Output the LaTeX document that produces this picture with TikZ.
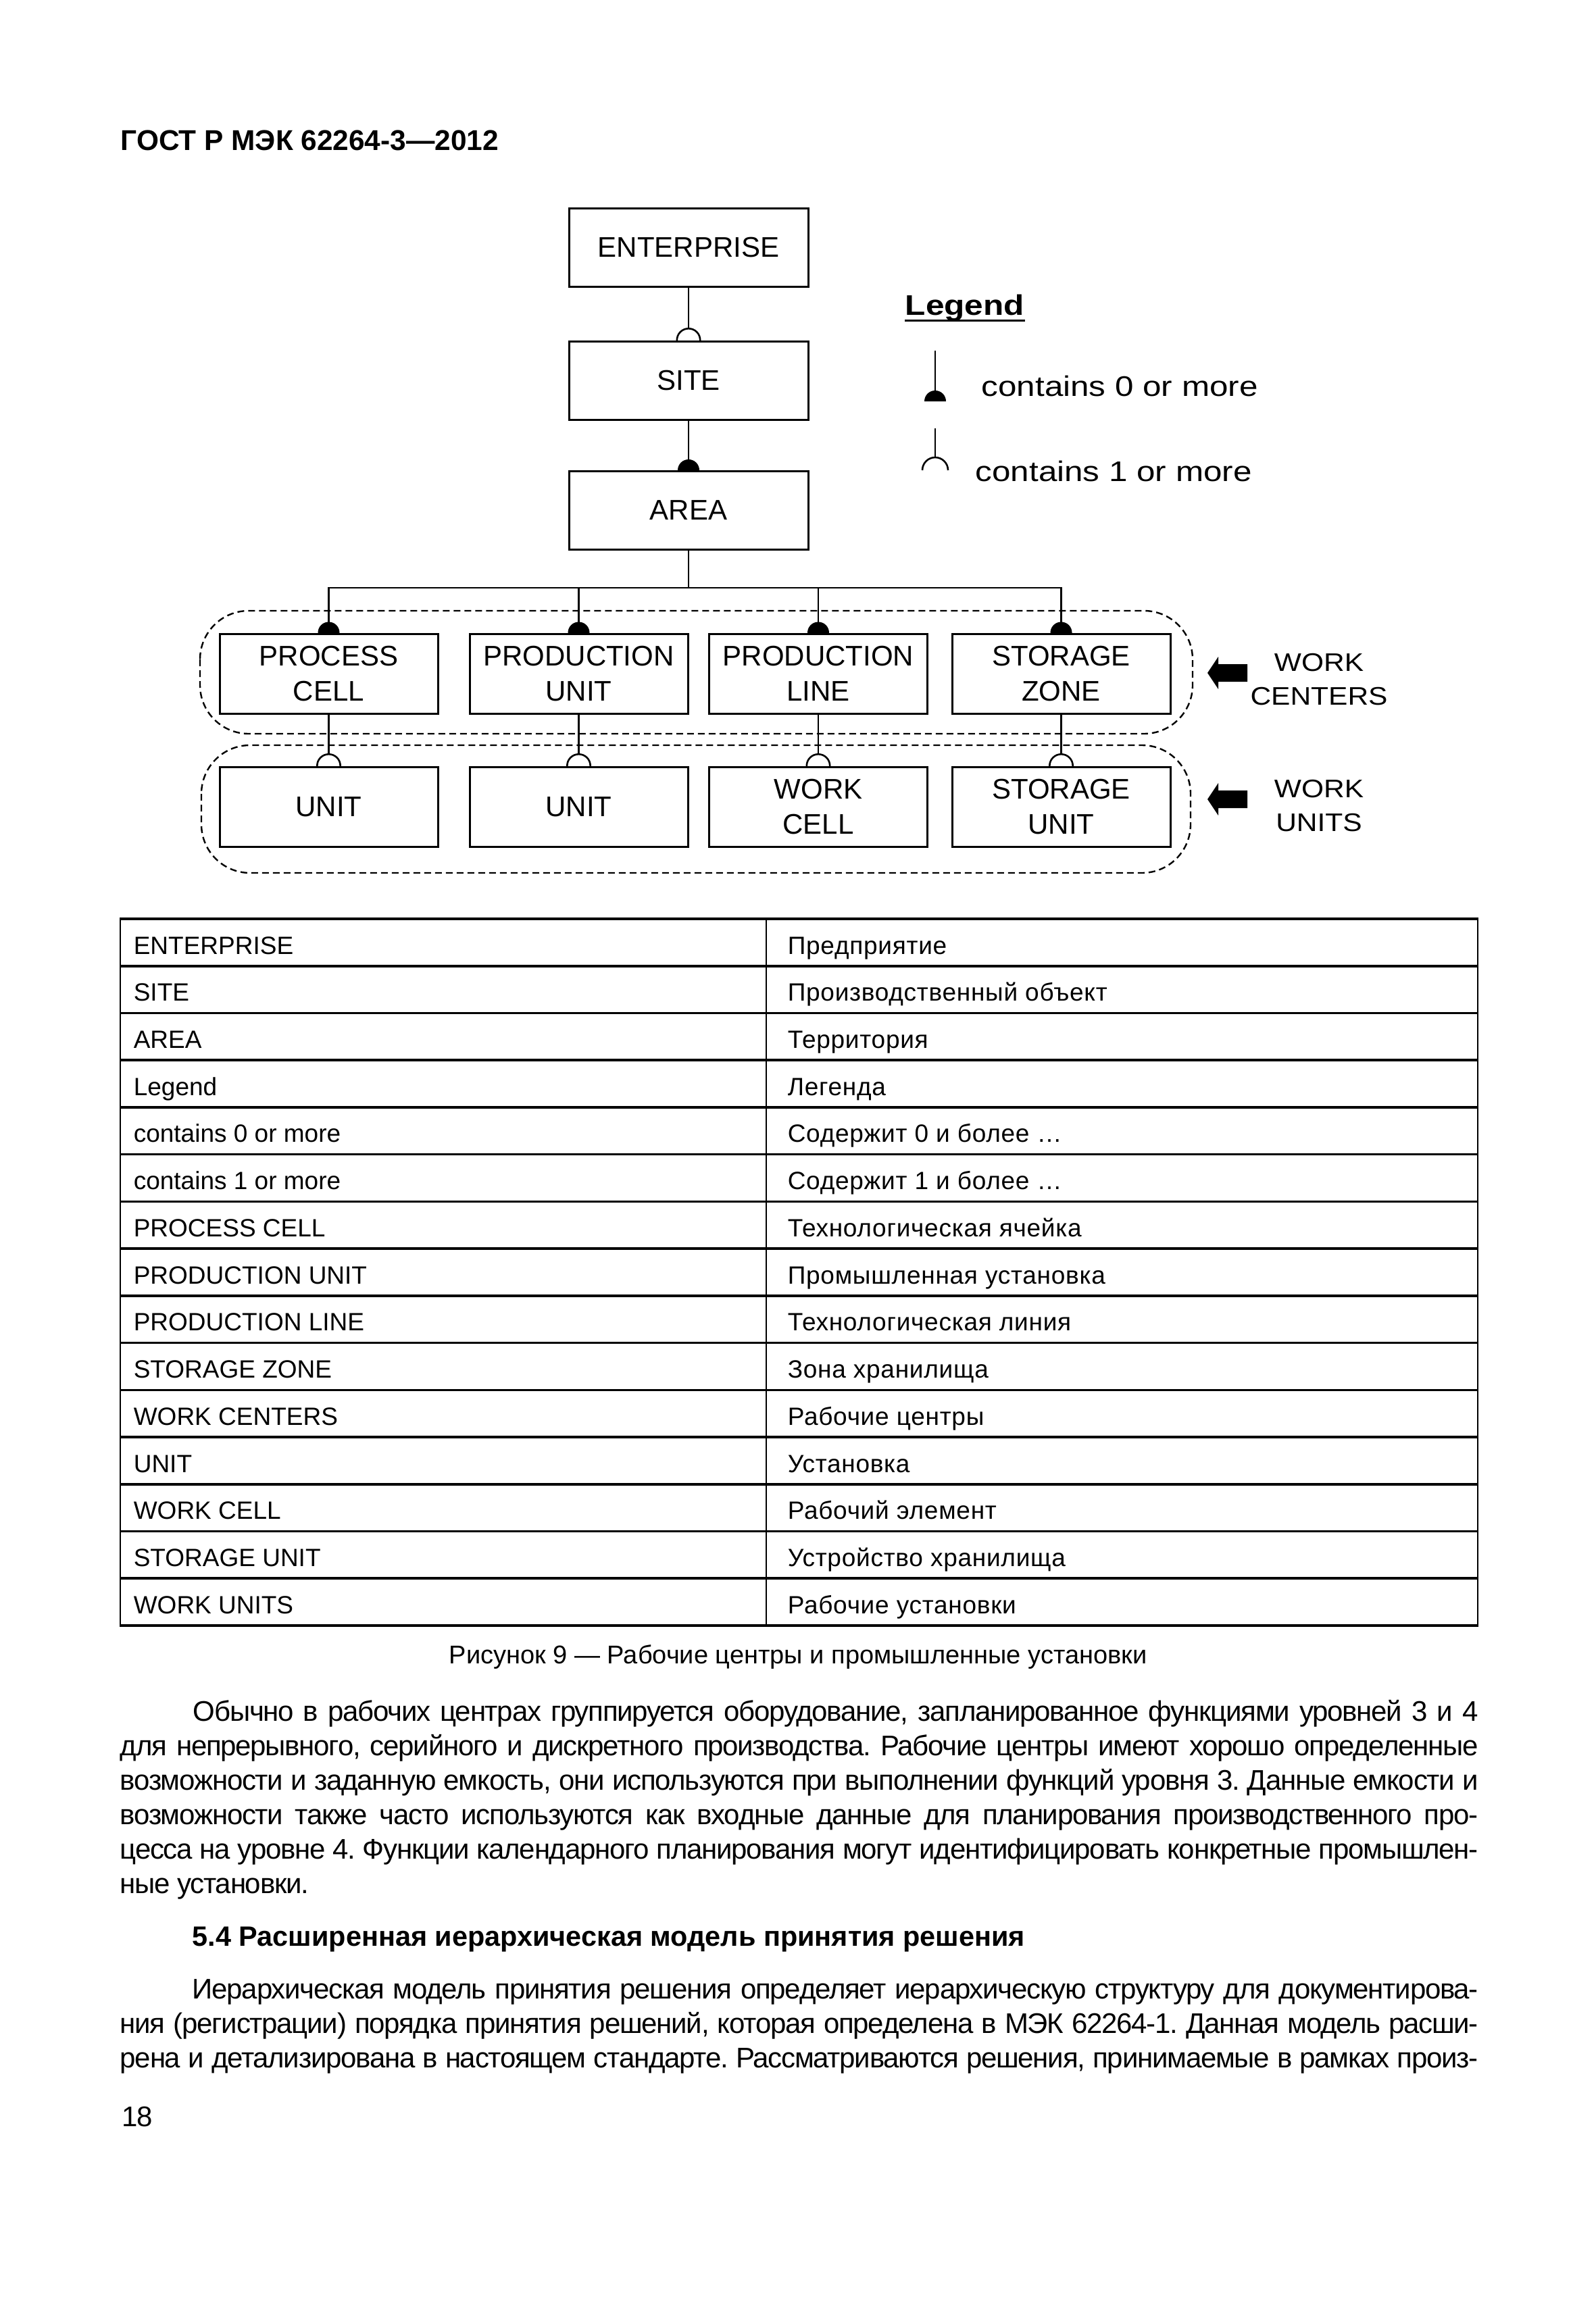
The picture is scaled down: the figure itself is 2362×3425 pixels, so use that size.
\documentclass[tikz,border=0pt]{standalone}
\usepackage{fontspec}
\usepackage{graphicx}
\setmainfont{Liberation Sans}
\newfontfamily\rusfont[LetterSpace=2]{Liberation Sans}
\newfontfamily\bodyfont[LetterSpace=-3]{Liberation Sans}
\usetikzlibrary{arrows.meta}
\pgfdeclarelayer{bg}
\pgfsetlayers{bg,main}
\newcommand{\hsc}[2]{\scalebox{#1}[1]{#2}}
\frenchspacing
\begin{document}
\begin{tikzpicture}[x=0.25pt,y=-0.25pt,
  box/.style={draw, line width=0.75pt, fill=white, minimum width=88.5pt, minimum height=29pt, inner sep=0pt, align=center, font=\fontsize{10.5pt}{13pt}\selectfont},
  wbox/.style={box, minimum width=80.75pt, minimum height=29.5pt},
  conn/.style={line width=0.65pt},
  onemore/.style={conn, -{Circle[open, length=9.25pt, width=9.25pt]}, shorten >=-4.625pt},
  zeromore/.style={conn, -{Circle[length=8pt, width=8pt]}, shorten >=-4pt},
  grp/.style={line width=0.6pt, dash pattern=on 2.5pt off 1.5pt, rounded corners=18pt},
  lbl/.style={anchor=base, inner sep=0pt, font=\fontsize{9.4pt}{11pt}\selectfont},
  leg/.style={anchor=base west, inner sep=0pt, font=\fontsize{10.5pt}{12pt}\selectfont},
  tcell/.style={anchor=base west, inner sep=0pt, font=\fontsize{9.25pt}{11pt}\selectfont},
  rcell/.style={tcell, font=\fontsize{9.25pt}{11pt}\rusfont},
  body/.style={anchor=base west, inner sep=0pt, font=\fontsize{10.5pt}{12.75pt}\bodyfont\frenchspacing},
  hline/.style={line width=0.9pt},
  vline/.style={line width=0.6pt}]
\useasboundingbox (0,0) rectangle (2362,3425);

% header
\node[anchor=base west, inner sep=0pt, font=\fontsize{10.6pt}{12pt}\selectfont\bfseries] (hdr) at (178,223) {ГОСТ Р МЭК 62264-3—2012};

% hierarchy
\node[box] (ent) at (1019,366) {ENTERPRISE};
\node[box] (site) at (1019,563) {SITE};
\node[box] (area) at (1019,755.5) {AREA};

\node[wbox] (pc) at (486.5,997) {PROCESS\\CELL};
\node[wbox] (pu) at (856.5,997) {PRODUCTION\\UNIT};
\node[wbox] (pl) at (1211,997) {PRODUCTION\\LINE};
\node[wbox] (sz) at (1570.5,997) {STORAGE\\ZONE};

\node[wbox] (u1) at (486.5,1194) {UNIT};
\node[wbox] (u2) at (856.5,1194) {UNIT};
\node[wbox] (wcell) at (1211,1194) {WORK\\CELL};
\node[wbox] (su) at (1570.5,1194) {STORAGE\\UNIT};

\begin{pgfonlayer}{bg}
\draw[onemore] (ent.south) -- (site.north);
\draw[zeromore] (site.south) -- (area.north);
\foreach \c in {pc,pu,pl,sz} {
  \draw[zeromore] (area.south) -- ++(0,55) -| (\c.north);
}
\draw[onemore] (pc.south) -- (u1.north);
\draw[onemore] (pu.south) -- (u2.north);
\draw[onemore] (pl.south) -- (wcell.north);
\draw[onemore] (sz.south) -- (su.north);
\end{pgfonlayer}

% groups
\draw[grp] (296,904) rectangle (1765,1086);
\draw[grp] (298,1103) rectangle (1762,1292);

% block arrows
\fill (1787,996) -- (1803,972) -- (1803,983) -- (1846,983) -- (1846,1009) -- (1803,1009) -- (1803,1020) -- cycle;
\fill (1787,1183) -- (1803,1159) -- (1803,1170) -- (1846,1170) -- (1846,1196) -- (1803,1196) -- (1803,1207) -- cycle;

\node[lbl] (wc1) at (1952,993) {\hsc{1.13}{WORK}};
\node[lbl] (wc2) at (1952,1043) {\hsc{1.13}{CENTERS}};
\node[lbl] (wu1) at (1952,1180) {\hsc{1.13}{WORK}};
\node[lbl] (wu2) at (1952,1230) {\hsc{1.13}{UNITS}};

% legend
\node[leg, font=\fontsize{10.5pt}{12pt}\selectfont\bfseries] (legend) at (1339,466) {\hsc{1.18}{Legend}};
\draw[line width=0.75pt] ([yshift=-2pt]legend.base west) -- ([yshift=-2pt]legend.base east);
\draw[conn] (1384,519) -- (1384,590);
\fill (1368,594) arc[start angle=180, end angle=0, radius=4pt] -- cycle;
\draw[conn] (1384,634) -- (1384,677);
\draw[conn] (1365,696) arc[start angle=180, end angle=0, radius=4.75pt];
\node[leg] (leg0) at (1452,586) {\hsc{1.175}{contains 0 or more}};
\node[leg] (leg1) at (1443,712) {\hsc{1.175}{contains 1 or more}};

% table
\foreach \i in {0,...,15} {
  \draw[hline] (177,{1360+\i*69.73}) -- (2188,{1360+\i*69.73});
}
\draw[vline] (178,1360) -- (178,2406);
\draw[vline] (1134,1360) -- (1134,2406);
\draw[vline] (2187,1360) -- (2187,2406);
\foreach [count=\i] \a/\b in {ENTERPRISE/Предприятие, SITE/Производственный объект, AREA/Территория, Legend/Легенда, contains 0 or more/Содержит 0 и более …, contains 1 or more/Содержит 1 и более …, PROCESS CELL/Технологическая ячейка, PRODUCTION UNIT/Промышленная установка, PRODUCTION LINE/Технологическая линия, STORAGE ZONE/Зона хранилища, WORK CENTERS/Рабочие центры, UNIT/Установка, WORK CELL/Рабочий элемент, STORAGE UNIT/Устройство хранилища, WORK UNITS/Рабочие установки} {
  \node[tcell] (l\i) at (197,{1360+(\i-1)*69.73+52}) {\a};
  \node[rcell] (r\i) at (1165,{1360+(\i-1)*69.73+52}) {\b};
}

\node[anchor=base, inner sep=0pt, font=\fontsize{9.5pt}{11pt}\selectfont] (cap) at (1181,2462) {Рисунок 9 — Рабочие центры и промышленные установки};

% body text
\node[body] (p1a) at (285,2547) {\makebox[475.5pt][s]{Обычно в рабочих центрах группируется оборудование, запланированное функциями уровней 3 и 4}};
\node[body] (p1b) at (177,2598) {\makebox[502.5pt][s]{для непрерывного, серийного и дискретного производства. Рабочие центры имеют хорошо определенные}};
\node[body] (p1c) at (177,2649) {\makebox[502.5pt][s]{возможности и заданную емкость, они используются при выполнении функций уровня 3. Данные емкости и}};
\node[body] (p1d) at (177,2700) {\makebox[502.5pt][s]{возможности также часто используются как входные данные для планирования производственного про-}};
\node[body] (p1e) at (177,2751) {\makebox[502.5pt][s]{цесса на уровне 4. Функции календарного планирования могут идентифицировать конкретные промышлен-}};
\node[body] (p1f) at (177,2802) {ные установки.};

\node[anchor=base west, inner sep=0pt, font=\fontsize{10.35pt}{12.75pt}\selectfont\bfseries] (h54) at (284,2880) {5.4 Расширенная иерархическая модель принятия решения};

\node[body] (p2a) at (284,2958) {\makebox[475.75pt][s]{Иерархическая модель принятия решения определяет иерархическую структуру для документирова-}};
\node[body] (p2b) at (177,3009) {\makebox[502.5pt][s]{ния (регистрации) порядка принятия решений, которая определена в МЭК 62264-1. Данная модель расши-}};
\node[body] (p2c) at (177,3060) {\makebox[502.5pt][s]{рена и детализирована в настоящем стандарте. Рассматриваются решения, принимаемые в рамках произ-}};

\node[body] (pg) at (180,3147) {18};
\end{tikzpicture}
\end{document}
